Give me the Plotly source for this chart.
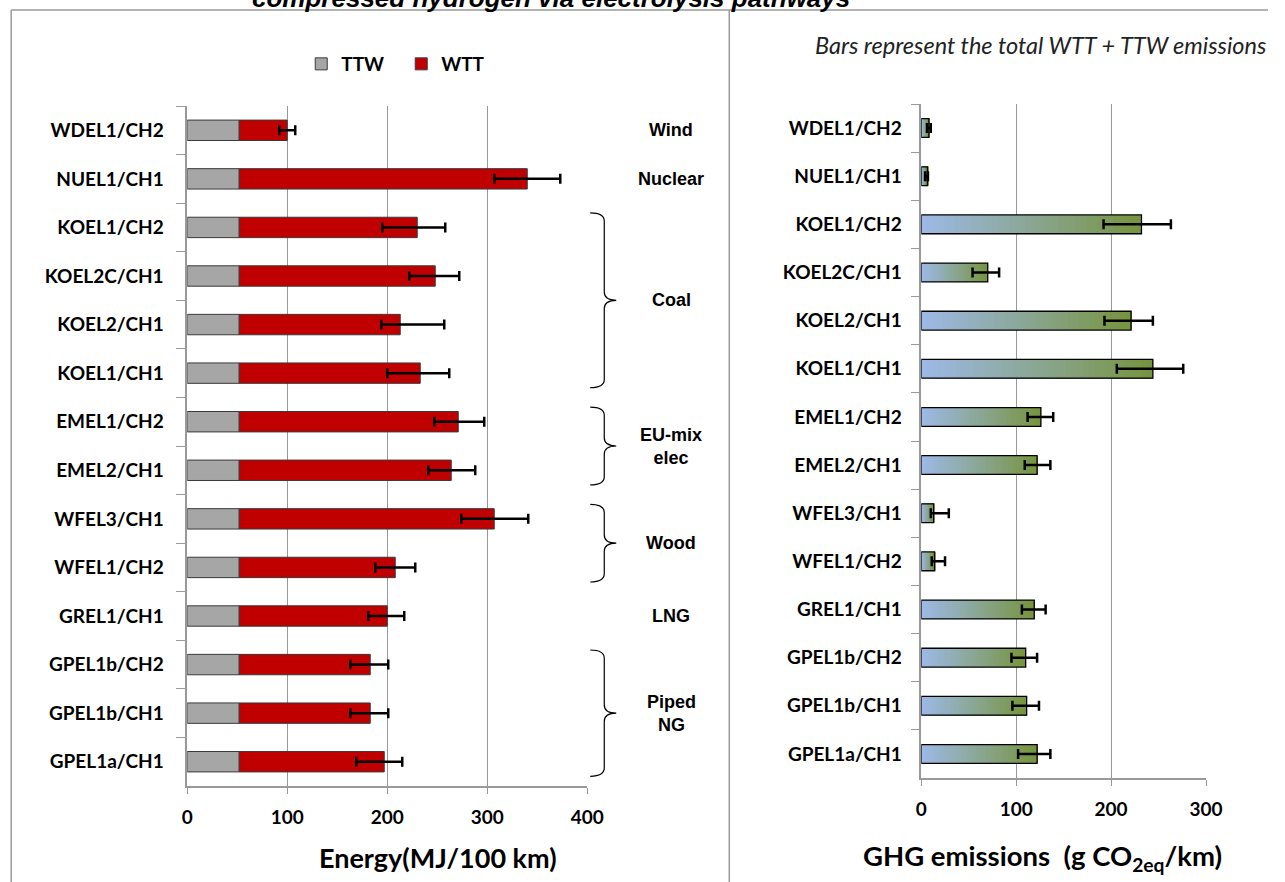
import plotly.graph_objects as go

# pathway labels, top to bottom
pathways = ["WDEL1/CH2", "NUEL1/CH1", "KOEL1/CH2", "KOEL2C/CH1", "KOEL2/CH1", "KOEL1/CH1",
            "EMEL1/CH2", "EMEL2/CH1", "WFEL3/CH1", "WFEL1/CH2", "GREL1/CH1",
            "GPEL1b/CH2", "GPEL1b/CH1", "GPEL1a/CH1"]

# energy (MJ/100 km)
ttw_energy = [52, 52, 52, 52, 52, 52, 52, 52, 52, 52, 52, 52, 52, 52]
energy_total = [100, 340, 230, 248, 213, 233, 271, 264, 307, 208, 200, 183, 183, 197]
energy_lo = [92, 307, 195, 222, 194, 200, 247, 241, 274, 188, 181, 163, 163, 169]
energy_hi = [108, 373, 258, 272, 257, 262, 297, 288, 341, 228, 217, 201, 201, 215]

# GHG (g CO2eq/km), total WTT + TTW
ghg_total = [8, 6.5, 232, 70, 221, 244, 126, 122, 13, 14, 119, 110, 111, 122]
ghg_lo = [6, 4, 192, 54, 193, 206, 112, 109, 10, 11, 106, 95, 96, 102]
ghg_hi = [10, 7, 263, 82, 244, 276, 139, 136, 29, 25, 131, 122, 124, 136]

energy_ticks = [0, 100, 200, 300, 400]
ghg_ticks = [0, 100, 200, 300]

# (label, first pathway index, last pathway index, draw bracket)
groups = [("Wind", 0, 0, False), ("Nuclear", 1, 1, False), ("Coal", 2, 5, True),
          ("EU-mix<br>elec", 6, 7, True), ("Wood", 8, 9, True), ("LNG", 10, 10, False),
          ("Piped<br>NG", 11, 13, True)]

W, H = 1285, 882
TOP, BOT = 104, 786  # pixels of the paper area
# measured horizontal mapping of the captured picture: shown_x = SX * page_x + DX
SX, DX = 0.982, 5.8


def px_x(px):
    return (px - DX) / SX / W


def px_y(py):
    return (BOT - py) / (BOT - TOP)


left_ydom = [px_y(786), px_y(106)]
right_ydom = [px_y(778), px_y(104)]


def cat_to_paper(idx, dom):
    d = 1 - (idx + 0.5) / len(pathways)
    return dom[0] + d * (dom[1] - dom[0])


def mix(c1, c2, t):
    return "rgb(%d,%d,%d)" % tuple(round(a + (b - a) * t) for a, b in zip(c1, c2))


wtt_energy = [t - b for t, b in zip(energy_total, ttw_energy)]
bold = dict(family="Lato", size=19, color="black", weight="bold")

fig = go.Figure()

fig.add_trace(go.Bar(
    name="TTW", y=pathways, x=ttw_energy, orientation="h", width=0.42,
    marker=dict(color="#a6a6a6", line=dict(color="#3a3a3a", width=1)),
    xaxis="x", yaxis="y"))
fig.add_trace(go.Bar(
    name="WTT", y=pathways, x=wtt_energy, base=ttw_energy, orientation="h", width=0.42,
    marker=dict(color="#c00000", line=dict(color="#3a3a3a", width=1)),
    error_x=dict(type="data", symmetric=False,
                 array=[h - t for h, t in zip(energy_hi, energy_total)],
                 arrayminus=[t - l for t, l in zip(energy_total, energy_lo)],
                 color="black", thickness=2.5, width=5),
    xaxis="x", yaxis="y"))

# gradient fill for the GHG bars (blue -> green), painted left to right
n_steps = 40
c_start, c_end = (157, 185, 230), (118, 147, 60)
for k in range(n_steps):
    f = k / n_steps
    fig.add_trace(go.Bar(
        y=pathways, x=[t * (1 - f) for t in ghg_total], base=[t * f for t in ghg_total],
        orientation="h", width=0.39, marker=dict(color=mix(c_start, c_end, f), line=dict(width=0)),
        showlegend=False, hoverinfo="skip", xaxis="x2", yaxis="y2"))
fig.add_trace(go.Bar(
    y=pathways, x=ghg_total, orientation="h", width=0.39, showlegend=False,
    marker=dict(color="rgba(0,0,0,0)", line=dict(color="black", width=1.3)),
    error_x=dict(type="data", symmetric=False,
                 array=[h - t for h, t in zip(ghg_hi, ghg_total)],
                 arrayminus=[t - l for t, l in zip(ghg_total, ghg_lo)],
                 color="black", thickness=2.5, width=5),
    xaxis="x2", yaxis="y2"))

xcommon = dict(showgrid=True, gridcolor="#999999", gridwidth=1, zeroline=False,
               showline=True, linecolor="#999999", linewidth=2, ticks="outside",
               ticklen=6, tickcolor="#999999", tickfont=bold, ticklabelstandoff=7,
               tickmode="array")
ycommon = dict(type="category", categoryorder="array", categoryarray=pathways,
               autorange="reversed", showgrid=False, showline=True, linecolor="#999999",
               linewidth=1.5, ticks="outside", tickson="boundaries", ticklen=9,
               tickcolor="#999999", tickfont=bold, automargin=False)

fig.update_layout(
    width=W, height=H, barmode="overlay",
    margin=dict(l=0, r=0, t=TOP, b=H - BOT),
    paper_bgcolor="white", plot_bgcolor="white",
    xaxis=dict(domain=[px_x(187), px_x(587)], range=[0, 400], tickvals=energy_ticks,
               anchor="y", **xcommon),
    yaxis=dict(domain=left_ydom, anchor="x", ticklabelstandoff=18, **ycommon),
    xaxis2=dict(domain=[px_x(921), px_x(1205.7)], range=[0, 300], tickvals=ghg_ticks,
                anchor="y2", **xcommon),
    yaxis2=dict(domain=right_ydom, anchor="x2", ticklabelstandoff=14, **ycommon),
    legend=dict(orientation="h", x=px_x(301), y=px_y(64), xanchor="left", yanchor="middle",
                font=dict(family="Lato", size=19, color="black", weight="bold"),
                entrywidth=55, itemwidth=30, bgcolor="rgba(0,0,0,0)"),
    showlegend=True,
)

shapes = []
border = dict(color="#9a9a9a", width=1.5)
shapes.append(dict(type="line", xref="paper", yref="paper", x0=px_x(11), x1=1.0,
                   y0=px_y(10), y1=px_y(10), line=border))
shapes.append(dict(type="line", xref="paper", yref="paper", x0=px_x(11), x1=px_x(11),
                   y0=px_y(10), y1=px_y(882), line=border))
shapes.append(dict(type="line", xref="paper", yref="paper", x0=px_x(729), x1=px_x(729),
                   y0=px_y(10), y1=px_y(882), line=border))

annotations = []
xa, xb, xc = px_x(590), px_x(604), px_x(616)
r = 0.012
for label, first, last, bracket in groups:
    ymid = cat_to_paper((first + last) / 2, left_ydom)
    if bracket:
        ytop = cat_to_paper(first - 0.3, left_ydom)
        ybot = cat_to_paper(last + 0.3, left_ydom)
        path = (f"M {xa},{ytop} Q {xb},{ytop} {xb},{ytop - r} L {xb},{ymid + r} "
                f"Q {xb},{ymid} {xc},{ymid} Q {xb},{ymid} {xb},{ymid - r} "
                f"L {xb},{ybot + r} Q {xb},{ybot} {xa},{ybot}")
        shapes.append(dict(type="path", xref="paper", yref="paper", path=path,
                           line=dict(color="black", width=1.2)))
    annotations.append(dict(text=label, x=px_x(671), y=ymid, xref="paper", yref="paper",
                            showarrow=False, xanchor="center", yanchor="middle",
                            font=dict(family="Liberation Sans", size=18, color="black",
                                      weight="bold")))

annotations += [
    dict(text="compressed hydrogen via electrolysis pathways", x=px_x(551), y=px_y(-2),
         xref="paper", yref="paper", showarrow=False, xanchor="center", yanchor="middle",
         font=dict(family="Liberation Sans", size=26, color="black", weight="bold",
                   style="italic")),
    dict(text="Bars represent the total WTT + TTW emissions", x=px_x(1268), y=px_y(45),
         xref="paper", yref="paper", showarrow=False, xanchor="right", yanchor="middle",
         font=dict(family="Lato", size=23.5, color="#222222", style="italic")),
    dict(text="Energy(MJ/100 km)", x=px_x(438), y=px_y(858), xref="paper", yref="paper",
         showarrow=False, xanchor="center", yanchor="middle",
         font=dict(family="Lato", size=27, color="black", weight="bold")),
    dict(text="GHG emissions\u00a0 (g CO<sub>2eq</sub>/km)", x=px_x(1042), y=px_y(858),
         xref="paper", yref="paper", showarrow=False, xanchor="center", yanchor="middle",
         font=dict(family="Lato", size=27.5, color="black", weight="bold")),
]

fig.update_layout(shapes=shapes, annotations=annotations)
# drop the default page margin so figure pixels match the window pixels
fig.write_html("out.html", config={"displayModeBar": False},
               post_script="document.body.style.margin='0';")
